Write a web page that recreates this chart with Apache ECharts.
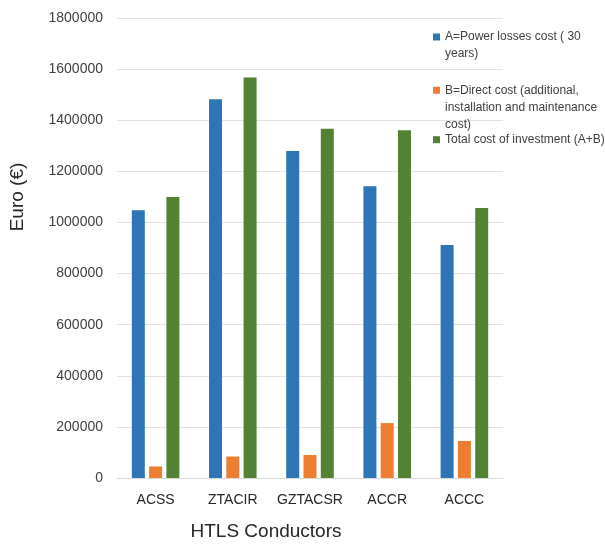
<!DOCTYPE html>
<html>
<head>
<meta charset="utf-8">
<script src="https://cdn.jsdelivr.net/npm/echarts@6/dist/echarts.min.js"></script>
<style>
html,body{margin:0;padding:0;background:#fff;}
#chart{width:605px;height:546px;}
</style>
</head>
<body>
<div id="chart"></div>
<script>
const categories = ['ACSS', 'ZTACIR', 'GZTACSR', 'ACCR', 'ACCC'];
const seriesNames = [
  'A=Power losses cost ( 30 years)',
  'B=Direct cost (additional, installation and maintenance cost)',
  'Total cost of investment (A+B)'
];
const powerLossesCost = [1048000, 1482000, 1280000, 1142000, 912000];
const directCost = [45000, 84000, 90000, 215000, 145000];
const totalCost = [1100000, 1567000, 1367000, 1361000, 1057000];
const yAxisTitle = 'Euro (€)';
const xAxisTitle = 'HTLS Conductors';
const legendLines = {};
legendLines[seriesNames[0]] = ['A=Power losses cost ( 30', 'years)'];
legendLines[seriesNames[1]] = ['B=Direct cost (additional,', 'installation and maintenance', 'cost)'];
legendLines[seriesNames[2]] = ['Total cost of investment (A+B)'];

const FONT = "'Liberation Sans', Arial, Helvetica, sans-serif";
const colors = ['#2E75B6', '#ED7D31', '#548235'];
const LH = 17;

// Leading blank lines keep the first text line level with the icon
function legendText(name) {
  const lines = legendLines[name];
  const blanks = new Array(lines.length - 1).fill(' ');
  return blanks.concat(lines).join('\n');
}

function legendFor(idx, iconCenterY) {
  const n = legendLines[seriesNames[idx]].length;
  return {
    orient: 'vertical',
    left: 433,
    top: iconCenterY - (2 * n - 1) * LH / 2,
    padding: 0,
    itemWidth: 7,
    itemHeight: 7,
    itemTextGap: 2,
    icon: 'rect',
    selectedMode: false,
    data: [seriesNames[idx]],
    formatter: legendText,
    textStyle: {
      fontFamily: FONT,
      fontSize: 12,
      lineHeight: LH,
      color: '#404040'
    }
  };
}

const chart = echarts.init(document.getElementById('chart'), null, {renderer: 'canvas'});
chart.setOption({
  animation: false,
  backgroundColor: '#ffffff',
  textStyle: {fontFamily: FONT},
  grid: {left: 117, right: 102, top: 18, bottom: 68, containLabel: false},
  legend: [
    legendFor(0, 37),
    legendFor(1, 90.3),
    legendFor(2, 139.7)
  ],
  xAxis: {
    type: 'category',
    data: categories,
    axisLine: {show: true, lineStyle: {color: '#d9d9d9', width: 1}},
    axisTick: {show: false},
    axisLabel: {fontFamily: FONT, fontSize: 14, color: '#262626', margin: 15, interval: 0}
  },
  yAxis: {
    type: 'value',
    min: 0,
    max: 1800000,
    interval: 200000,
    axisLine: {show: false},
    axisTick: {show: false},
    axisLabel: {fontFamily: FONT, fontSize: 14, color: '#404040', margin: 14,
      formatter: function (v) { return String(v); }},
    splitLine: {lineStyle: {color: '#e2e2e2', width: 1}}
  },
  graphic: [
    {
      type: 'text',
      x: 18,
      y: 197,
      rotation: Math.PI / 2,
      style: {
        text: yAxisTitle,
        fontFamily: FONT,
        fontSize: 19,
        fill: '#262626',
        align: 'center',
        verticalAlign: 'middle'
      }
    },
    {
      type: 'text',
      x: 266,
      y: 532,
      style: {
        text: xAxisTitle,
        fontFamily: FONT,
        fontSize: 19,
        fill: '#262626',
        align: 'center',
        verticalAlign: 'middle'
      }
    }
  ],
  series: [
    {name: seriesNames[0], type: 'bar', data: powerLossesCost, barWidth: 13, barGap: '33%', itemStyle: {color: colors[0]}},
    {name: seriesNames[1], type: 'bar', data: directCost, barWidth: 13, barGap: '33%', itemStyle: {color: colors[1]}},
    {name: seriesNames[2], type: 'bar', data: totalCost, barWidth: 13, barGap: '33%', itemStyle: {color: colors[2]}}
  ]
});
</script>
</body>
</html>
